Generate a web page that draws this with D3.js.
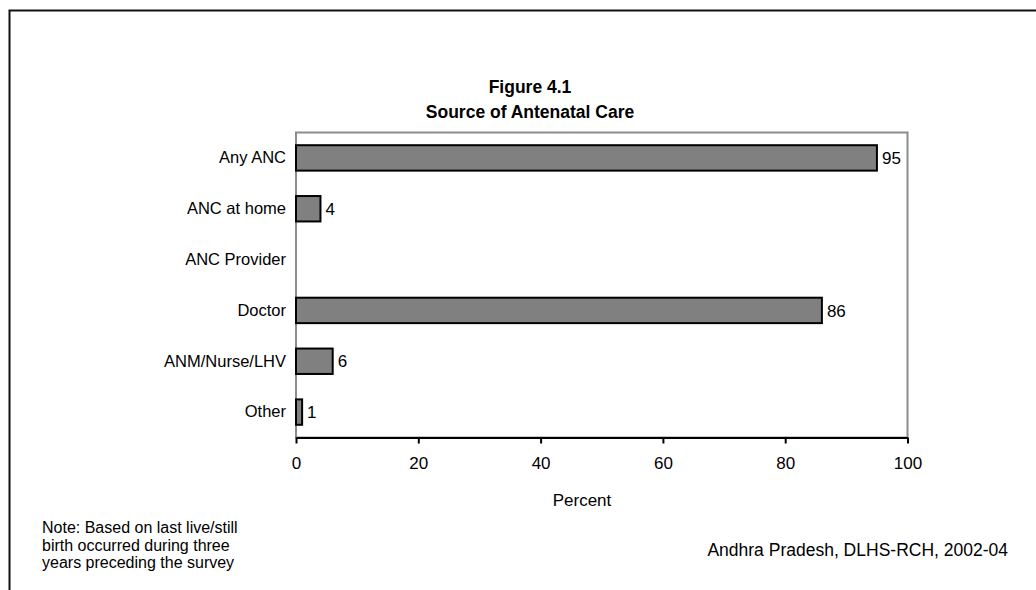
<!DOCTYPE html>
<html>
<head>
<meta charset="utf-8">
<script src="https://cdn.jsdelivr.net/npm/d3@7"></script>
<style>
  html, body { margin: 0; padding: 0; background: #fff; }
  svg { display: block; font-family: "Liberation Sans", Arial, sans-serif; }
</style>
</head>
<body>
<svg id="chart" width="1036" height="590"></svg>
<script>
// Source of antenatal care, percent of women
const categories = ["Any ANC", "ANC at home", "ANC Provider", "Doctor", "ANM/Nurse/LHV", "Other"];
const values = [95, 4, null, 86, 6, 1];
const xTicks = [0, 20, 40, 60, 80, 100];
const titleLines = ["Figure 4.1", "Source of Antenatal Care"];
const noteLines = ["Note: Based on last live/still", "birth occurred during three", "years preceding the survey"];
const sourceText = "Andhra Pradesh, DLHS-RCH, 2002-04";

const svg = d3.select("#chart");

// outer frame (extends past the right and bottom edges)
svg.append("rect")
  .attr("x", 9.5).attr("y", 10.5)
  .attr("width", 1040).attr("height", 600)
  .attr("fill", "none").attr("stroke", "#111").attr("stroke-width", 2);

const plot = { left: 296, right: 907.5, top: 132.5, bottom: 437.5 };

const x = d3.scaleLinear().domain([0, 100]).range([plot.left, plot.right]);
const y = d3.scaleBand().domain(categories).range([plot.top, plot.bottom])
  .paddingInner(0.5).paddingOuter(0.25);

// plot area border
svg.append("rect")
  .attr("x", plot.left).attr("y", plot.top)
  .attr("width", plot.right - plot.left).attr("height", plot.bottom - plot.top)
  .attr("fill", "none").attr("stroke", "#8c8c8c").attr("stroke-width", 2);

// bars
const rows = categories.map((c, i) => ({ c, v: values[i] })).filter(d => d.v !== null);
svg.append("g").selectAll("rect").data(rows).join("rect")
  .attr("x", x(0))
  .attr("y", d => y(d.c))
  .attr("width", d => x(d.v) - x(0))
  .attr("height", y.bandwidth())
  .attr("fill", "#808080")
  .attr("stroke", "#000")
  .attr("stroke-width", 2);

// value labels
svg.append("g").selectAll("text").data(rows).join("text")
  .attr("x", d => x(d.v) + 5)
  .attr("y", d => y(d.c) + y.bandwidth() / 2)
  .attr("dy", "0.36em")
  .attr("font-size", 17)
  .attr("fill", "#000")
  .text(d => d.v);

// category axis
const yAxis = svg.append("g")
  .attr("transform", `translate(${plot.left},0)`)
  .call(d3.axisLeft(y).tickSize(0).tickPadding(10));
yAxis.select(".domain").remove();
yAxis.selectAll("text").attr("font-size", 16.5).attr("fill", "#000")
  .attr("font-family", "'Liberation Sans', Arial, sans-serif");

// value axis
const xAxis = svg.append("g")
  .attr("transform", `translate(0,${plot.bottom})`)
  .call(d3.axisBottom(x).tickValues(xTicks).tickSize(6).tickPadding(13).tickSizeOuter(0));
xAxis.select(".domain").attr("stroke", "#000").attr("stroke-width", 2);
xAxis.selectAll(".tick line").attr("stroke", "#000").attr("stroke-width", 2);
xAxis.selectAll("text").attr("font-size", 17).attr("fill", "#000")
  .attr("font-family", "'Liberation Sans', Arial, sans-serif");

// axis title
svg.append("text")
  .attr("x", 582).attr("y", 506)
  .attr("text-anchor", "middle").attr("font-size", 17)
  .text("Percent");

// chart title
svg.append("g").selectAll("text").data(titleLines).join("text")
  .attr("x", 530)
  .attr("y", (d, i) => 93 + i * 25)
  .attr("text-anchor", "middle")
  .attr("font-size", 17.5)
  .attr("font-weight", "bold")
  .text(d => d);

// footnote
svg.append("g").selectAll("text").data(noteLines).join("text")
  .attr("x", 42)
  .attr("y", (d, i) => 533 + i * 17.5)
  .attr("font-size", 16)
  .text(d => d);

// source
svg.append("text")
  .attr("x", 1008).attr("y", 556)
  .attr("text-anchor", "end").attr("font-size", 17.5)
  .text(sourceText);
</script>
</body>
</html>
